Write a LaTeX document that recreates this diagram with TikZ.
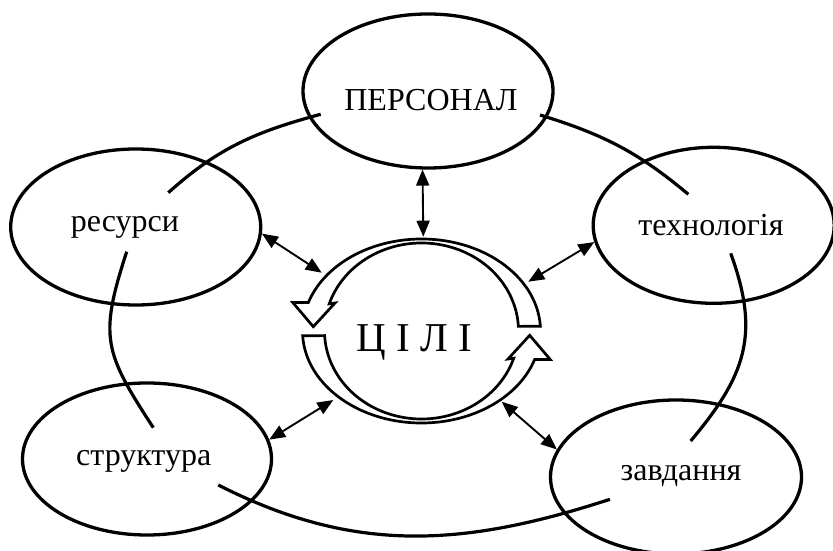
\documentclass[tikz,border=0pt]{standalone}
\usepackage{fontspec}
\setmainfont{Liberation Serif}
\usetikzlibrary{arrows.meta,shapes.geometric}

\begin{document}
\begin{tikzpicture}[x=1pt,y=1pt,
  oval/.style={draw,ellipse,line width=3.3pt,inner sep=0pt},
  lbl/.style={anchor=base,inner sep=0pt,font=\fontsize{32}{38}\selectfont},
  link/.style={line width=3.2pt},
  ringline/.style={line width=2.7pt,fill=white,line join=miter},
  dbl/.style={line width=1.9pt,>={Triangle[length=16pt,width=13pt]},<->}]
\useasboundingbox (0,0) rectangle (833,551);
% ellipses
\node[oval,minimum width=250pt,minimum height=154pt] (per) at (428,460) {};
\node[oval,minimum width=250pt,minimum height=156pt] (res) at (135.7,324) {};
\node[oval,minimum width=241pt,minimum height=156pt] (tech) at (713.7,325.7) {};
\node[oval,minimum width=249pt,minimum height=152pt] (str) at (147,92) {};
\node[oval,minimum width=251pt,minimum height=154pt] (zav) at (676,74) {};
\node[lbl] (per-t) at (431,440) {ПЕРСОНАЛ};
\node[lbl] (res-t) at (125,319.3) {ресурси};
\node[lbl] (tech-t) at (711,315) {технологія};
\node[lbl] (str-t) at (143.7,85) {структура};
\node[lbl] (zav-t) at (681,70) {завдання};
% outer arcs
\coordinate (a1) at (320.7,436.7); \coordinate (a2) at (168.3,358.3);
\coordinate (b1) at (540,436); \coordinate (b2) at (688.3,356.7);
\coordinate (c1) at (730.7,297.7); \coordinate (c2) at (690.7,110);
\coordinate (d1) at (126.7,299.3); \coordinate (d2) at (153.3,123.3);
\coordinate (e1) at (218.3,66); \coordinate (e2) at (610,51.7);
\draw[link] (a1) to[out=195,in=42] (a2);
\draw[link] (b1) to[out=-17,in=140] (b2);
\draw[link] (c1) to[out=-70,in=50,looseness=1.15] (c2);
\draw[link] (d1) to[out=-108,in=123,looseness=1.3] (d2);
\draw[link] (e1) to[out=-27,in=198] (e2);
% ring of two arrows
\coordinate (ring) at (421.5,220);
\draw[ringline] ([shift={(3:119pt and 92pt)}]ring)
  arc[start angle=3,end angle=162,x radius=119pt,y radius=92pt]
  -- ++(-15.5,0) -- (313.3,224.3) -- (335,248)
  -- ([shift={(162:97pt and 88pt)}]ring)
  arc[start angle=162,end angle=3,x radius=97pt,y radius=88pt] -- cycle;
\draw[ringline] ([shift={(183:119pt and 92pt)}]ring)
  arc[start angle=183,end angle=342,x radius=119pt,y radius=92pt]
  -- ++(15.5,0) -- (529.7,215.7) -- (508,192)
  -- ([shift={(342:97pt and 88pt)}]ring)
  arc[start angle=342,end angle=183,x radius=97pt,y radius=88pt] -- cycle;
\node[inner sep=0pt,anchor=base,font=\fontsize{41}{48}\selectfont] (goal) at (414.7,199.3) {Ц І Л І};
% double arrows
\coordinate (r1) at (423.3,314.3);
\coordinate (r2) at (321.7,278.3);
\coordinate (r3) at (528.3,269.3);
\coordinate (r4) at (333.3,151);
\coordinate (r5) at (501.7,149.3);
\draw[dbl] (per.266.5) -- (r1);
\draw[dbl] (res.-3.7) -- (r2);
\draw[dbl] (tech.188.5) -- (r3);
\draw[dbl] (str.9) -- (r4);
\draw[dbl] (zav.167.4) -- (r5);
\end{tikzpicture}
\end{document}
